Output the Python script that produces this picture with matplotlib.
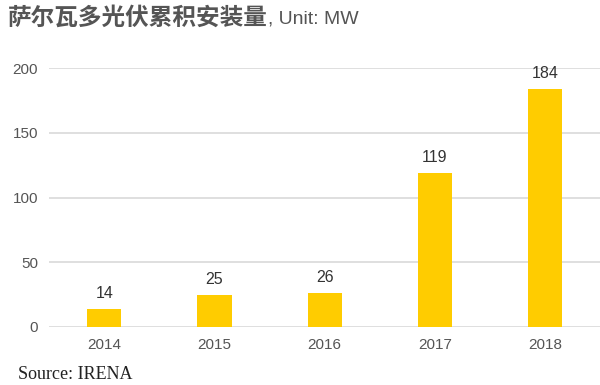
import matplotlib
matplotlib.use("Agg")
import matplotlib.pyplot as plt

years = ["2014", "2015", "2016", "2017", "2018"]
capacity_mw = [14, 25, 26, 119, 184]
yticks = [0, 50, 100, 150, 200]

plt.rcParams["font.family"] = ["Noto Sans CJK SC", "DejaVu Sans"]
latin = ["Liberation Sans", "DejaVu Sans"]

fig = plt.figure(figsize=(6.0, 3.85), dpi=100)
ax = fig.add_axes([0.082, 0.151, 0.918, 0.672])

x = range(len(years))
ax.bar(x, capacity_mw, width=0.31, color="#FFCC00", zorder=3)
for xi, v in zip(x, capacity_mw):
    ax.text(xi, v + 6, str(v), ha="center", va="bottom", fontsize=11.5,
            color="#333333", family=latin)

ax.set_xlim(-0.5, len(years) - 0.5)
ax.set_ylim(0, 200)
ax.set_yticks(yticks)
ax.set_xticks(list(x))
ax.set_xticklabels(years)
ax.grid(axis="y", color="#d9d9d9", lw=1.2, zorder=0)
for s in ax.spines.values():
    s.set_visible(False)
ax.tick_params(length=0, labelsize=11, labelcolor="#555555", pad=8)
for lab in ax.get_xticklabels() + ax.get_yticklabels():
    lab.set_family(latin)

# title: bold CJK part, then the unit in regular latin right after it
t = fig.text(0.013, 0.955, "萨尔瓦多光伏累积安装量", fontsize=17, fontweight="bold",
             color="#555555", va="center", ha="left")
ax.annotate(", Unit: MW", xy=(1, 0.45), xycoords=t, fontsize=14, color="#555555",
            va="center", ha="left", family=latin, annotation_clip=False)
fig.text(0.03, 0.028, "Source: IRENA", fontsize=13, color="#222222", va="center",
         ha="left", family=["Liberation Serif", "DejaVu Serif"])

fig.savefig("out.png", dpi=100)
